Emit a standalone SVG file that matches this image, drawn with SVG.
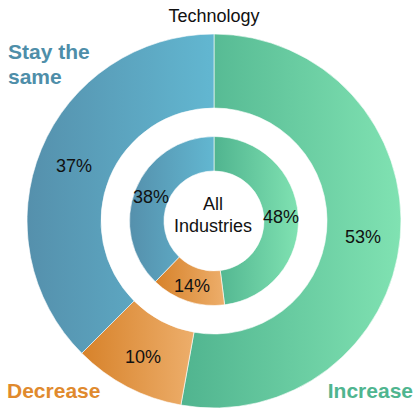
<svg xmlns="http://www.w3.org/2000/svg" width="415" height="411" viewBox="0 0 415 411">
<style>
.seg{stroke:#ffffff;stroke-width:0.6}
.pct{font-family:"Liberation Sans",Arial,sans-serif;font-size:18px;fill:#111111;text-anchor:middle}
.ctr{font-family:"Liberation Sans",Arial,sans-serif;font-size:18px;fill:#111111;text-anchor:middle}
.lab{font-family:"Liberation Sans",Arial,sans-serif;font-size:21px;font-weight:bold}
</style>
<defs>
<linearGradient id="gStay" x1="0" y1="0" x2="1" y2="0"><stop offset="0" stop-color="#5590ac"/><stop offset="1" stop-color="#62b7d1"/></linearGradient>
<linearGradient id="gInc" x1="0" y1="0" x2="1" y2="0"><stop offset="0" stop-color="#50b48f"/><stop offset="1" stop-color="#80e2b2"/></linearGradient>
<linearGradient id="gDec" x1="0" y1="0" x2="1" y2="0"><stop offset="0" stop-color="#d7822a"/><stop offset="1" stop-color="#edae6b"/></linearGradient>
</defs>
<rect width="415" height="411" fill="#ffffff"/>
<text x="214" y="22" class="ctr">Technology</text>
<g id="outer-increase"><path class="seg" fill="url(#gInc)" d="M214,34 A187,187 0 1 1 180.89,405.05 L193.99,332.21 A113,113 0 1 0 214,108 Z"/><text x="363" y="243" class="pct">53%</text></g>
<g id="outer-decrease"><path class="seg" fill="url(#gDec)" d="M180.89,405.05 A187,187 0 0 1 81.77,353.23 L134.10,300.90 A113,113 0 0 0 193.99,332.21 Z"/><text x="143" y="363" class="pct">10%</text></g>
<g id="outer-stay"><path class="seg" fill="url(#gStay)" d="M81.77,353.23 A187,187 0 0 1 214,34 L214,108 A113,113 0 0 0 134.10,300.90 Z"/><text x="74" y="172" class="pct">37%</text></g>
<g id="inner-increase"><path class="seg" fill="url(#gInc)" d="M214,136.5 A84.5,84.5 0 0 1 224.59,304.83 L220.27,270.61 A50,50 0 0 0 214,171 Z"/><text x="281" y="223" class="pct">48%</text></g>
<g id="inner-decrease"><path class="seg" fill="url(#gDec)" d="M224.59,304.83 A84.5,84.5 0 0 1 155.30,281.78 L179.27,256.97 A50,50 0 0 0 220.27,270.61 Z"/><text x="192" y="292" class="pct">14%</text></g>
<g id="inner-stay"><path class="seg" fill="url(#gStay)" d="M155.30,281.78 A84.5,84.5 0 0 1 214,136.5 L214,171 A50,50 0 0 0 179.27,256.97 Z"/><text x="151" y="203" class="pct">38%</text></g>
<g id="center-label"><text x="213" y="210" class="ctr">All</text><text x="213" y="232" class="ctr">Industries</text></g>
<g id="legend-stay"><text x="8" y="59" class="lab" fill="#4e8ea9">Stay the</text><text x="8" y="84" class="lab" fill="#4e8ea9">same</text></g>
<g id="legend-decrease"><text x="7" y="398" class="lab" fill="#e08a2e">Decrease</text></g>
<g id="legend-increase"><text x="413" y="398" class="lab" fill="#4fb58f" text-anchor="end">Increase</text></g>
<g id="connectors"></g>
</svg>
